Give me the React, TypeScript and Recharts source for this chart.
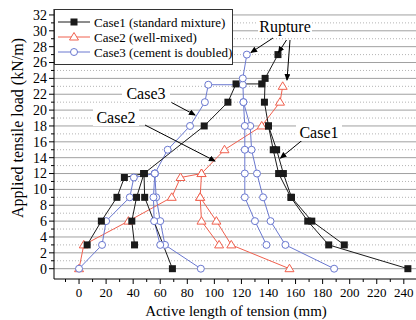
import { CartesianGrid, ComposedChart, Line, XAxis, YAxis } from 'recharts'

// [active length (mm), load (kN/m)] pairs, one array per drawn branch
const case1A = [[6, 3], [16.5, 6], [28, 9], [33.5, 11.5], [48, 12]]
const case1B = [[41, 3], [39, 6], [42.5, 9], [48, 12]]
const case1C = [[69, 0], [48.5, 9], [48, 12]]
const case1D = [[48, 12], [92.5, 18], [110, 21], [116, 23.3], [135, 23.3]]
const case1E = [[243, 0], [184.5, 3], [169, 6], [156.5, 9], [147.5, 12], [143.5, 15], [140, 18], [137, 21], [137.5, 24], [147, 27]]
const case1F = [[196, 3], [172, 6], [157, 9], [151, 12], [146, 15], [140, 18]]

const case2A = [[0, 0], [3.5, 3], [36.5, 6], [68.5, 9], [75, 11.5], [90.5, 12], [107.5, 15], [135, 18], [148.5, 21], [150.5, 23]]
const case2B = [[90.5, 12], [89.5, 9], [90.5, 6], [103.5, 3]]
const case2C = [[89.5, 9], [101.5, 6], [112.5, 3], [155.5, 0]]

const case3A = [[0, 0], [17, 3], [20, 6], [37.5, 9], [40.5, 11.5], [56, 12]]
const case3B = [[90, 0], [63.5, 3], [60, 6], [57, 9], [56, 12]]
const case3C = [[60, 3], [55.5, 6], [55, 9], [56, 12]]
const case3D = [[56, 12], [65.5, 15], [82, 18], [93, 21], [95.5, 23.2], [121, 23.2]]
const case3E = [[188.5, 0], [152.5, 3], [141.5, 6], [136, 9], [131.5, 12], [127.5, 15], [126.5, 18], [121.5, 21], [121, 24], [124, 27]]
const case3F = [[138.5, 3], [130, 6], [122.5, 9], [122.5, 12], [122.5, 15], [122.5, 18], [121.5, 21]]

const seriesNames = ['Case1 (standard mixture)', 'Case2 (well-mixed)', 'Case3 (cement is doubled)']

const xTicks = [-10, 0, 10, 20, 30, 40, 50, 60, 70, 80, 90, 100, 110, 120, 130, 140, 150, 160, 170, 180, 190, 200, 210, 220, 230, 240]
const yTicks = Array.from({ length: 33 }, (_, i) => i)
const evenLoads = yTicks.filter((v) => v % 2 === 0)
const oddLoads = yTicks.filter((v) => v % 2 === 1)

const BLACK = '#1a1a1a'
const RED = '#f0604e'
const BLUE = '#6a78d0'
const FONT = '"Liberation Serif", "Times New Roman", serif'

const toPts = (arr: number[][]) => arr.map(([x, y]) => ({ x, y }))

function Marker({ kind, cx, cy }: { kind: number; cx: number; cy: number }) {
  if (kind === 0) return <rect x={cx - 3.5} y={cy - 3.5} width={7} height={7} fill={BLACK} />
  if (kind === 1)
    return <polygon points={`${cx},${cy - 4.5} ${cx + 4.5},${cy + 3} ${cx - 4.5},${cy + 3}`} fill="#fff" stroke={RED} strokeWidth={1} />
  return <circle cx={cx} cy={cy} r={3.5} fill="#fff" stroke={BLUE} strokeWidth={1} />
}

const dotFor = (kind: number) => (p: any) => <Marker key={`${p.index}-${p.cx}`} kind={kind} cx={p.cx} cy={p.cy} />

function YTick(props: any) {
  const { x, y, payload } = props
  const major = payload.value % 2 === 0
  const ax = x + 7
  return (
    <g>
      <line x1={ax} x2={ax - (major ? 5 : 3)} y1={y} y2={y} stroke="#000" />
      {major && (
        <text x={x} y={y} dy="0.35em" textAnchor="end" fontSize={14} fontFamily={FONT} fill="#000">
          {payload.value}
        </text>
      )}
    </g>
  )
}

function XTick(props: any) {
  const { x, y, payload } = props
  const major = payload.value % 20 === 0
  const ay = y - 9
  return (
    <g>
      <line x1={x} x2={x} y1={ay} y2={ay + (major ? 5 : 3)} stroke="#000" />
      {major && (
        <text x={x} y={y} dy="0.71em" textAnchor="middle" fontSize={13} fontFamily={FONT} fill="#000">
          {payload.value}
        </text>
      )}
    </g>
  )
}

function Note({ x, y, w, text }: { x: number; y: number; w: number; text: string }) {
  return (
    <g>
      <rect x={x - w / 2} y={y - 9} width={w} height={18} fill="#fff" />
      <text x={x} y={y} dy="0.35em" textAnchor="middle" fontSize={16} fontFamily={FONT} fill="#000">
        {text}
      </text>
    </g>
  )
}

const arrows = [
  [273, 38, 251, 52.5],
  [286.5, 40, 278.5, 52.5],
  [290, 40, 287, 80],
  [171.5, 102.5, 195, 115],
  [145, 125, 215, 161],
  [302.5, 140, 280.5, 158],
]

export default function App() {
  const groups = [
    { kind: 1, color: RED, segs: [case2A, case2B, case2C] },
    { kind: 2, color: BLUE, segs: [case3A, case3B, case3C, case3D, case3E, case3F] },
    { kind: 0, color: BLACK, segs: [case1A, case1B, case1C, case1D, case1E, case1F] },
  ]
  return (
    <div style={{ position: 'absolute', left: 0, top: 0, width: 416, height: 320, background: '#fff' }}>
      <ComposedChart width={416} height={320} margin={{ top: 9, right: 0, left: 0, bottom: 0 }}>
        <CartesianGrid horizontal vertical={false} horizontalValues={oddLoads} stroke="#b4b4b4" strokeDasharray="1 2" />
        <CartesianGrid horizontal vertical={false} horizontalValues={evenLoads} stroke="#a0a0a0" />
        <XAxis
          type="number"
          dataKey="x"
          domain={[-18.5, 249]}
          ticks={xTicks}
          interval={0}
          allowDataOverflow
          height={41}
          tickSize={5}
          tickMargin={4}
          tickLine={false}
          tick={<XTick />}
          axisLine={{ stroke: '#000' }}
        />
        <YAxis
          type="number"
          dataKey="y"
          domain={[-1.3, 32.75]}
          ticks={yTicks}
          interval={0}
          allowDataOverflow
          width={54}
          tickSize={5}
          tickMargin={2}
          tickLine={false}
          tick={<YTick />}
          axisLine={{ stroke: '#000' }}
        />
        {groups.flatMap((g) =>
          g.segs.map((s, i) => (
            <Line
              key={`${g.kind}-${i}`}
              data={toPts(s)}
              dataKey="y"
              stroke={g.color}
              strokeWidth={1}
              dot={dotFor(g.kind)}
              activeDot={false}
              legendType="none"
              isAnimationActive={false}
            />
          ))
        )}
      </ComposedChart>
      <svg width={416} height={320} style={{ position: 'absolute', left: 0, top: 0, pointerEvents: 'none' }}>
        <defs>
          <marker id="ah" markerWidth="7" markerHeight="6" refX="6" refY="3" orient="auto" markerUnits="userSpaceOnUse">
            <path d="M0,0 L7,3 L0,6 z" fill="#000" />
          </marker>
        </defs>
        <rect x={54.5} y={9.5} width={178} height={55} fill="#fff" stroke="#333" />
        {seriesNames.map((name, i) => {
          const cy = 22 + i * 15
          const color = [BLACK, RED, BLUE][i]
          return (
            <g key={name}>
              <line x1={58} x2={90} y1={cy} y2={cy} stroke={color} />
              <Marker kind={i} cx={74} cy={cy} />
              <text x={94} y={cy} dy="0.35em" fontSize={13} fontFamily={FONT} fill="#000">
                {name}
              </text>
            </g>
          )
        })}
        {arrows.map(([x1, y1, x2, y2], i) => (
          <line key={i} x1={x1} y1={y1} x2={x2} y2={y2} stroke="#000" strokeWidth={1} markerEnd="url(#ah)" />
        ))}
        <Note x={285} y={26} w={54} text="Rupture" />
        <Note x={146} y={93} w={48} text="Case3" />
        <Note x={116} y={117} w={46} text="Case2" />
        <Note x={319} y={132} w={46} text="Case1" />
        <text x={236} y={311} dy="0.35em" textAnchor="middle" fontSize={15} fontFamily={FONT} fill="#000">
          Active length of tension (mm)
        </text>
        <text
          x={17}
          y={128}
          dy="0.35em"
          textAnchor="middle"
          fontSize={16}
          fontFamily={FONT}
          fill="#000"
          transform="rotate(-90 17 128)"
        >
          Applied tensile load (kN/m)
        </text>
      </svg>
    </div>
  )
}
